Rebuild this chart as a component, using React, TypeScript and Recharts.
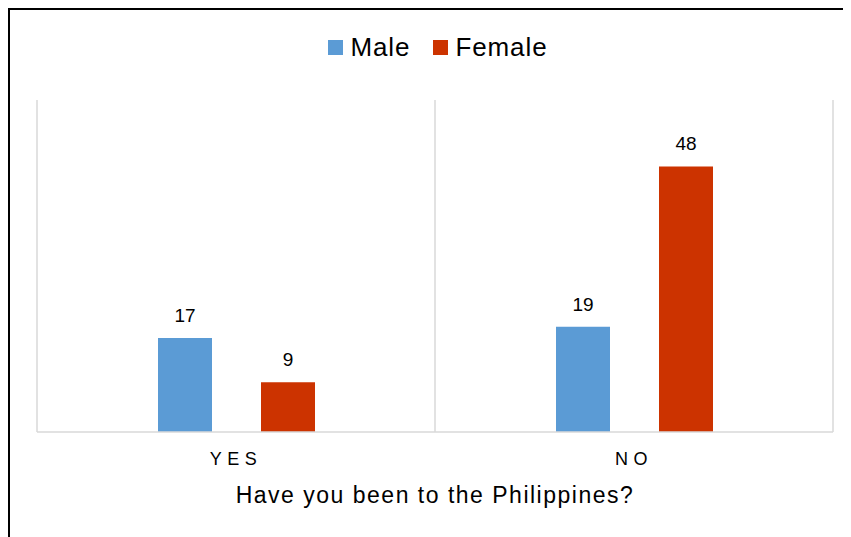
import React from "react";
import { BarChart, Bar, XAxis, YAxis, CartesianGrid, Legend, LabelList } from "recharts";

const categories = ["YES", "NO"];
const maleValues = [17, 19];
const femaleValues = [9, 48];
const seriesNames = ["Male", "Female"];
const axisTitle = "Have you been to the Philippines?";

const data = categories.map((c, i) => ({ name: c, Male: maleValues[i], Female: femaleValues[i] }));

const FONT = "'Liberation Sans', Arial, sans-serif";
const COLORS = ["#5B9BD5", "#CC3300"];

const LegendContent = () => (
  <div style={{ height: 70, display: "flex", justifyContent: "center", alignItems: "flex-start", fontFamily: FONT, paddingLeft: 6 }}>
    {seriesNames.map((n, i) => (
      <div key={n} style={{ display: "flex", alignItems: "center", marginLeft: i === 0 ? 0 : 23, height: 34 }}>
        <div style={{ width: 15, height: 15, background: COLORS[i], marginRight: 7 }} />
        <span style={{ fontSize: 26, letterSpacing: 0.9, color: "#000", lineHeight: "34px" }}>{n}</span>
      </div>
    ))}
  </div>
);

export default function App() {
  return (
    <div style={{ width: 843, height: 529, boxSizing: "border-box", borderTop: "2px solid #000", borderLeft: "2px solid #000", overflow: "hidden" }}>
      <BarChart
        width={841}
        height={527}
        data={data}
        margin={{ top: 20, right: 18, left: 27, bottom: 25 }}
        barSize={54}
        barGap={49}
      >
        <CartesianGrid
          horizontal={false}
          stroke="#d9d9d9"
          strokeWidth={1.5}
          verticalCoordinatesGenerator={({ offset }: any) => [
            offset.left,
            offset.left + offset.width / 2,
            offset.left + offset.width,
          ]}
        />
        <XAxis
          dataKey="name"
          tickLine={false}
          tickSize={0}
          tickMargin={20}
          height={80}
          axisLine={{ stroke: "#d9d9d9", strokeWidth: 1.5 }}
          tick={{ fontSize: 18, fill: "#000", fontFamily: FONT, letterSpacing: 5.5 }}
          label={{ value: axisTitle, position: "insideBottom", offset: 9, fontSize: 23, letterSpacing: 1.5, fill: "#000", fontFamily: FONT }}
        />
        <YAxis hide domain={[0, 60]} />
        <Legend verticalAlign="top" align="center" content={<LegendContent />} />
        <Bar dataKey="Male" fill={COLORS[0]} isAnimationActive={false}>
          <LabelList dataKey="Male" position="top" offset={16} style={{ fontSize: 19, fill: "#000", fontFamily: FONT }} />
        </Bar>
        <Bar dataKey="Female" fill={COLORS[1]} isAnimationActive={false}>
          <LabelList dataKey="Female" position="top" offset={16} style={{ fontSize: 19, fill: "#000", fontFamily: FONT }} />
        </Bar>
      </BarChart>
    </div>
  );
}
